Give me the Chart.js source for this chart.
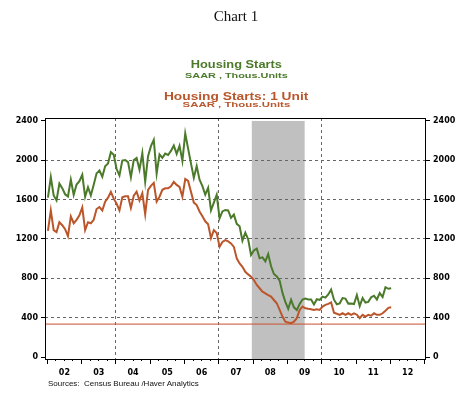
<!DOCTYPE html>
<html>
<head>
<meta charset="utf-8">
<script src="https://cdn.jsdelivr.net/npm/chart.js@4.4.1/dist/chart.umd.min.js"></script>
<style>
  body { margin: 0; background: #fff; }
  #wrap { position: relative; width: 470px; height: 396px; }
  #chart { position: absolute; left: 0; top: 0; }
  .hdr { position: absolute; left: 1px; width: 470px; text-align: center; line-height: 1; white-space: nowrap; }
  .hdr span { display: inline-block; }
  .sans { font-family: "Liberation Sans", Arial, sans-serif; font-weight: bold; }
  #title { top: 8px; font: 15px "Liberation Serif", "Times New Roman", serif; color: #111; }
  #t1 { top: 59px; font-size: 10.5px; color: #4b7a2b; }
  #t1 span { transform: scaleX(1.22); }
  #s1 { top: 71.5px; font-size: 7.5px; color: #4b7a2b; }
  #s1 span { transform: scaleX(1.45); }
  #t2 { top: 91px; font-size: 10.5px; color: #b8562c; }
  #t2 span { transform: scaleX(1.31); }
  #s2 { top: 100.8px; font-size: 7.5px; color: #b8562c; }
  #s2 span { transform: scaleX(1.52); }
  #src { position: absolute; left: 48px; top: 380px; font: 8px "Liberation Sans", Arial, sans-serif; color: #111; line-height: 1; white-space: nowrap; }
</style>
</head>
<body>
<div id="wrap">
  <canvas id="chart" width="470" height="396"></canvas>
  <div class="hdr" id="title"><span>Chart 1</span></div>
  <div class="hdr sans" id="t1"><span>Housing Starts</span></div>
  <div class="hdr sans" id="s1"><span>SAAR , Thous.Units</span></div>
  <div class="hdr sans" id="t2"><span>Housing Starts: 1 Unit</span></div>
  <div class="hdr sans" id="s2"><span>SAAR , Thous.Units</span></div>
  <div id="src">Sources:&nbsp; Census Bureau /Haver Analytics</div>
</div>
<script>
// monthly data, Jan 2002 .. Jan 2012 (thous. units, SAAR)
const firstYear = 2002;
const totalStarts = [
  1620, 1829, 1642, 1592, 1764, 1717, 1655, 1633, 1804, 1648, 1753, 1788,
  1853, 1629, 1726, 1643, 1751, 1867, 1897, 1833, 1939, 1967, 2083, 2057,
  1911, 1846, 1998, 2003, 1981, 1828, 2002, 2024, 1905, 2072, 1782, 2042,
  2144, 2207, 1864, 2061, 2025, 2068, 2054, 2095, 2151, 2065, 2147, 1994,
  2273, 2119, 1969, 1821, 1942, 1802, 1737, 1650, 1720, 1491, 1570, 1649,
  1409, 1480, 1495, 1490, 1415, 1448, 1354, 1330, 1183, 1264, 1197, 1037,
  1084, 1103, 1005, 1013, 973, 1046, 923, 844, 820, 777, 652, 560,
  490, 582, 505, 478, 540, 585, 594, 586, 585, 534, 588, 581,
  614, 604, 636, 687, 583, 536, 546, 599, 594, 543, 545, 539,
  630, 517, 600, 554, 561, 608, 623, 585, 650, 610, 710, 694,
  699
];
const oneUnitStarts = [
  1283, 1492, 1290, 1270, 1370, 1340, 1300, 1229, 1430, 1360, 1395, 1440,
  1520, 1290, 1370, 1360, 1395, 1505, 1525, 1490, 1580, 1620, 1678, 1610,
  1560, 1490, 1625, 1635, 1635, 1515, 1640, 1680, 1590, 1665, 1452, 1700,
  1740, 1770, 1580, 1630, 1700, 1715, 1715, 1735, 1780, 1750, 1730, 1630,
  1810, 1790, 1680, 1570, 1545, 1480, 1430, 1380, 1350, 1210, 1290, 1260,
  1120, 1170, 1188, 1175, 1155, 1120, 1003, 952, 918, 867, 840, 817,
  783, 733, 699, 665, 648, 630, 614, 580, 547, 479, 411, 360,
  350, 344, 360, 395, 479, 513, 496, 490, 486, 479, 486, 479,
  513, 530, 540, 555, 450, 440, 429, 445, 429, 445, 429, 445,
  430, 395, 429, 411, 429, 420, 445, 429, 429, 445, 470, 500,
  505
];
const troughLevel = 335;
const recession = [2007.96, 2009.5];
const yTicks = [0, 400, 800, 1200, 1600, 2000, 2400];
const yGridLines = [400, 800, 1200, 1600, 2000];
const xGridYears = [2004, 2007, 2010];
const xRange = [2001.935, 2013.035];
const yRange = [-20, 2430];

const green = '#4b7a2b';
const orange = '#bb562a';

function toPoints(values) {
  return values.map((v, i) => ({ x: firstYear + (i + 0.25) / 12, y: v }));
}

const quarterTicks = [];
for (let q = 0; q <= (2013 - firstYear) * 4; q++) quarterTicks.push(firstYear + q / 4);

const tickFont = { family: 'DejaVu Sans', size: 8, weight: 'bold' };

const shadeAndFrame = {
  id: 'shadeAndFrame',
  beforeDraw(chart) {
    const { ctx, chartArea, scales } = chart;
    const x0 = scales.x.getPixelForValue(recession[0]);
    const x1 = scales.x.getPixelForValue(recession[1]);
    const top = scales.y.getPixelForValue(2400);
    ctx.save();
    ctx.fillStyle = '#c0c0c0';
    ctx.fillRect(x0, top, x1 - x0, chartArea.bottom - top);
    ctx.restore();
  },
  afterDraw(chart) {
    const { ctx, chartArea } = chart;
    ctx.save();
    ctx.strokeStyle = '#000';
    ctx.lineWidth = 1;
    ctx.strokeRect(chartArea.left + 0.5, chartArea.top + 0.5, chartArea.width - 1, chartArea.height);
    ctx.restore();
  }
};

new Chart(document.getElementById('chart'), {
  type: 'line',
  data: {
    datasets: [
      {
        label: 'Housing Starts',
        data: toPoints(totalStarts),
        borderColor: green,
        borderWidth: 2,
        pointRadius: 0,
        tension: 0
      },
      {
        label: 'Housing Starts: 1 Unit',
        data: toPoints(oneUnitStarts),
        borderColor: orange,
        borderWidth: 2,
        pointRadius: 0,
        tension: 0
      },
      {
        label: 'trough',
        data: [{ x: xRange[0], y: troughLevel }, { x: xRange[1], y: troughLevel }],
        borderColor: '#c8502e',
        borderWidth: 1,
        pointRadius: 0
      }
    ]
  },
  options: {
    responsive: false,
    animation: false,
    devicePixelRatio: 1,
    layout: { padding: { top: 118, left: 0, right: 0, bottom: 0 } },
    plugins: { legend: { display: false }, tooltip: { enabled: false } },
    scales: {
      x: {
        type: 'linear',
        min: xRange[0],
        max: xRange[1],
        afterBuildTicks: s => { s.ticks = quarterTicks.map(v => ({ value: v })); },
        afterFit: s => { s.height = 37; },
        border: { display: false, dash: [3, 3] },
        grid: {
          color: c => xGridYears.includes(c.tick && c.tick.value) ? '#666' : 'rgba(0,0,0,0)',
          tickColor: '#000',
          tickLength: 5,
          tickBorderDash: c => (c.tick && Number.isInteger(c.tick.value)) ? [] : [2, 20]
        },
        ticks: {
          autoSkip: false,
          maxRotation: 0,
          minRotation: 0,
          padding: 4,
          color: '#000',
          font: tickFont,
          callback: v => (v % 1 === 0.5 && v < 2013) ? String(Math.floor(v) % 100).padStart(2, '0') : ''
        }
      },
      y: {
        position: 'left',
        min: yRange[0],
        max: yRange[1],
        afterBuildTicks: s => { s.ticks = yTicks.map(v => ({ value: v })); },
        afterFit: s => { s.width = 45; },
        border: { display: false, dash: [3, 3] },
        grid: {
          color: c => yGridLines.includes(c.tick && c.tick.value) ? '#666' : 'rgba(0,0,0,0)',
          tickColor: '#000',
          tickLength: 4,
          tickBorderDash: []
        },
        ticks: { padding: 3, color: '#000', font: tickFont, callback: v => String(v) }
      },
      y2: {
        position: 'right',
        min: yRange[0],
        max: yRange[1],
        afterBuildTicks: s => { s.ticks = yTicks.map(v => ({ value: v })); },
        afterFit: s => { s.width = 44; },
        border: { display: false },
        grid: { drawOnChartArea: false, tickColor: '#000', tickLength: 4 },
        ticks: { padding: 3, color: '#000', font: tickFont, callback: v => String(v) }
      }
    }
  },
  plugins: [shadeAndFrame]
});
</script>
</body>
</html>
